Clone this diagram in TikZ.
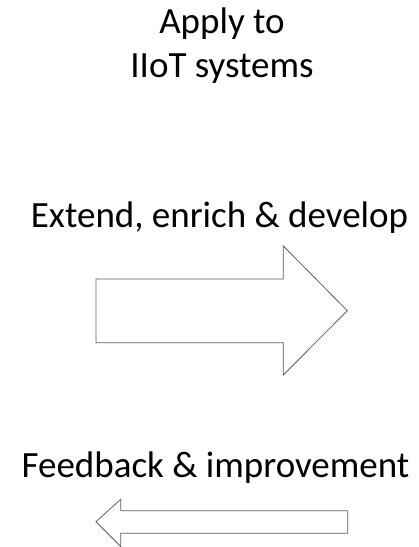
\documentclass[tikz,border=0pt]{standalone}
\usepackage{fontspec}
\setmainfont{Carlito}
\definecolor{edgegray}{RGB}{95,95,95}
\begin{document}
\begin{tikzpicture}[x=1pt,y=1pt,
  label/.style={inner sep=0pt, anchor=base, font=\fontsize{37}{44}\selectfont},
  outline/.style={draw=edgegray, line width=0.8pt, fill=white, line join=miter}]
  \useasboundingbox (0,0) rectangle (419,547);

  % captions
  \node[label] (apply) at (222,513) {Apply to};
  \node[label] (iiot) at (222,469) {IIoT systems};
  \node[label] (extend) at (219.5,319.3) {Extend, enrich \& develop};
  \node[label] (feedback) at (215.5,69.5) {Feedback \& improvement};

  % forward block arrow
  \draw[outline] (96,268) -- (283.3,268) -- (283.3,301) -- (347.3,236.3)
    -- (283.3,172) -- (283.3,204.3) -- (96,204.3) -- cycle;

  % return block arrow
  \draw[outline] (347.7,36.3) -- (120.7,36.3) -- (120.7,47.7) -- (96,25.3)
    -- (120.7,0.6) -- (120.7,13.7) -- (347.7,13.7) -- cycle;
\end{tikzpicture}
\end{document}
